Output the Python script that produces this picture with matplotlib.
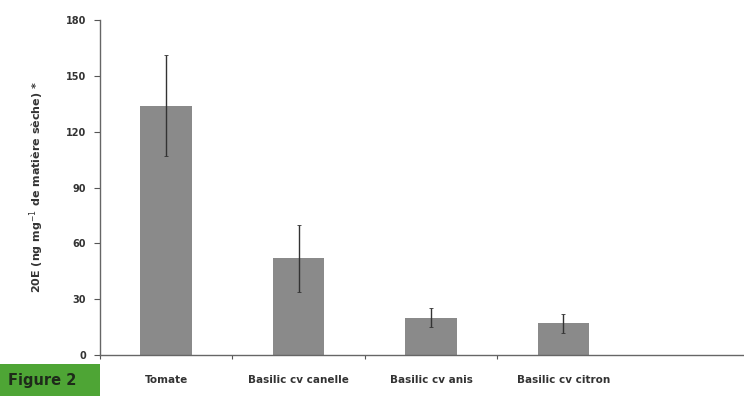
import matplotlib.pyplot as plt
import matplotlib.patches as mpatches

categories = ['Tomate', 'Basilic cv canelle', 'Basilic cv anis', 'Basilic cv citron']
values = [134, 52, 20, 17]
errors = [27, 18, 5, 5]
yticks = [0, 30, 60, 90, 120, 150, 180]

fig = plt.figure(figsize=(7.44, 3.96), dpi=100)
ax = fig.add_axes([100/744, 1 - 355/396, 1 - 100/744 + 0.01, (355 - 20)/396])

x = list(range(len(categories)))
ax.bar(x, values, width=0.39, color='#8a8a8a', zorder=2)
ax.errorbar(x, values, yerr=errors, fmt='none', ecolor='#333333', elinewidth=1.0,
            capsize=1.5, capthick=0.6, zorder=3)

ax.set_xlim(-0.5, 4.42)
ax.set_ylim(0, 180)
ax.set_yticks(yticks)
ax.set_yticklabels([str(v) for v in yticks], fontsize=7, fontweight='bold', color='#333333')
ax.set_xticks([-0.5, 0.5, 1.5, 2.5])
ax.set_xticklabels([])
ax.tick_params(axis='x', length=3, width=0.8, color='#555555')
ax.tick_params(axis='y', length=4, width=0.8, color='#555555', pad=6)
for i, c in enumerate(categories):
    ax.text(i, -25/335, c, transform=ax.get_xaxis_transform(), ha='center', va='center',
            fontsize=7.5, fontweight='bold', color='#333333')

ax.spines['top'].set_visible(False)
ax.spines['right'].set_visible(False)
for s in ['left', 'bottom']:
    ax.spines[s].set_color('#666666')
    ax.spines[s].set_linewidth(1.0)

ax.set_ylabel('20E (ng mg$^{-1}$ de matière sèche) *', fontsize=8, fontweight='bold',
              color='#333333', labelpad=14)

# green "Figure 2" tag in the lower left corner
fig.patches.append(mpatches.Rectangle((0, 0), 100/744, 32/396, transform=fig.transFigure,
                                      facecolor='#4ea535', edgecolor='none'))
fig.text(8/744, 16/396, 'Figure 2', fontsize=10.5, fontweight='bold', color='#1e2a1a',
         ha='left', va='center')

fig.savefig('out.png', dpi=100)
